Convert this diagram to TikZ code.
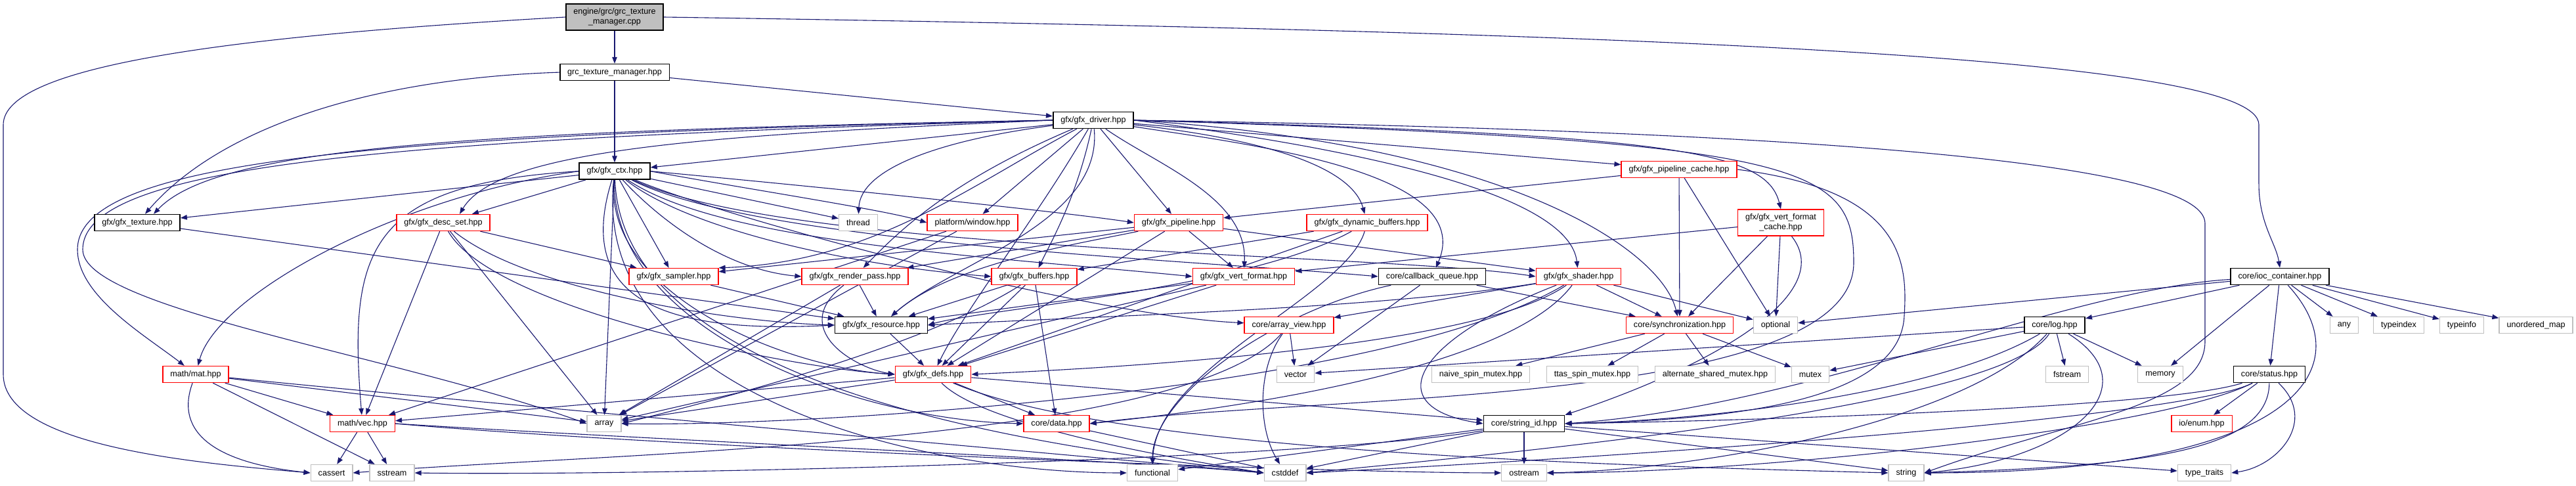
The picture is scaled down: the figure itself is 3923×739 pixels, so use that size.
\documentclass[tikz,border=0pt]{standalone}
\usepackage{fontspec}
\setmainfont{Liberation Sans}
\usetikzlibrary{arrows.meta, positioning, backgrounds}
\definecolor{edgeblue}{HTML}{191970}
\definecolor{sysgray}{HTML}{BFBFBF}
\definecolor{rootgray}{HTML}{BFBFBF}
\definecolor{truncred}{HTML}{FF0000}

\begin{document}
\begin{tikzpicture}[
    x=1pt, y=-1pt,
    >={Triangle[length=10pt, width=7.5pt]},
    every node/.style={font=\fontsize{12.6}{15}\selectfont},
    hdr/.style  ={rectangle, fill=white, align=center, inner xsep=11.5pt,
                  inner ysep=0pt, minimum height=25pt},
    box/.style  ={hdr, draw=black, line width=1.6pt},
    root/.style ={box, fill=rootgray, minimum height=40pt},
    trunc/.style={hdr, draw=truncred, line width=1.4pt},
    sys/.style  ={hdr, draw=sysgray, line width=1.4pt},
    dep/.style  ={->, line width=1.1pt, edgeblue},
]
\useasboundingbox (0,0) rectangle (3923,739);

\node[root] (cpp) at (936,26) {engine/grc/grc\_texture\\\_manager.cpp};
\node[box,  below=50pt of cpp]  (tmh) {grc\_texture\_manager.hpp};
\node[box]  (drv) at (1665,183) {gfx/gfx\_driver.hpp};
\node[box,  below=124pt of tmh] (ctx) {gfx/gfx\_ctx.hpp};
\node[trunc] (pcache) at (2557,258) {gfx/gfx\_pipeline\_cache.hpp};

\node[box]   (tex)  at (209,339)  {gfx/gfx\_texture.hpp};
\node[trunc] (dset) at (675,339)  {gfx/gfx\_desc\_set.hpp};
\node[sys]   (thr)  at (1307,339) {thread};
\node[trunc] (win)  at (1481,339) {platform/window.hpp};
\node[trunc] (pipe) at (1795,339) {gfx/gfx\_pipeline.hpp};
\node[trunc] (dynb) at (2082,339) {gfx/gfx\_dynamic\_buffers.hpp};
\node[trunc, minimum height=40pt] (vfc) at (2712,339) {gfx/gfx\_vert\_format\\\_cache.hpp};

\node[trunc] (samp)  at (1026,421) {gfx/gfx\_sampler.hpp};
\node[trunc] (rpass) at (1302,421) {gfx/gfx\_render\_pass.hpp};
\node[trunc] (bufs)  at (1575,421) {gfx/gfx\_buffers.hpp};
\node[trunc] (vfmt)  at (1894,421) {gfx/gfx\_vert\_format.hpp};
\node[box]   (cbq)   at (2181,421) {core/callback\_queue.hpp};
\node[trunc] (shd)   at (2404,421) {gfx/gfx\_shader.hpp};
\node[box]   (ioc)   at (3472,421) {core/ioc\_container.hpp};

\node[box]   (res)   at (1342,495) {gfx/gfx\_resource.hpp};
\node[trunc] (aview) at (1963,495) {core/array\_view.hpp};
\node[trunc] (sync)  at (2558,495) {core/synchronization.hpp};
\node[sys]   (opt)   at (2704,495) {optional};
\node[box]   (logh)  at (3129,495) {core/log.hpp};
\node[sys]   (any)   at (3570,495) {any};
\node[sys]   (tidx)  at (3653,495) {typeindex};
\node[sys]   (tinfo) at (3749,495) {typeinfo};
\node[sys]   (umap)  at (3862,495) {unordered\_map};

\node[trunc] (mat)    at (298,570)  {math/mat.hpp};
\node[trunc] (defs)   at (1421,570) {gfx/gfx\_defs.hpp};
\node[sys]   (vector) at (1973,570) {vector};
\node[sys]   (naive)  at (2255,570) {naive\_spin\_mutex.hpp};
\node[sys]   (ttas)   at (2425,570) {ttas\_spin\_mutex.hpp};
\node[sys]   (alt)    at (2612,570) {alternate\_shared\_mutex.hpp};
\node[sys]   (mtx)    at (2757,570) {mutex};
\node[sys]   (fstr)   at (3148,570) {fstream};
\node[sys]   (mem)    at (3290,570) {memory};
\node[box]   (stat)   at (3456,570) {core/status.hpp};

\node[trunc] (vech)  at (552,645)  {math/vec.hpp};
\node[sys]   (arr)   at (920,645)  {array};
\node[trunc] (data)  at (1609,645) {core/data.hpp};
\node[box]   (sid)   at (2321,645) {core/string\_id.hpp};
\node[trunc] (enumh) at (3353,645) {io/enum.hpp};

\node[sys] (cas)  at (505,720)  {cassert};
\node[sys] (sst)  at (597,720)  {sstream};
\node[sys] (func) at (1755,720) {functional};
\node[sys] (cstd) at (1957,720) {cstddef};
\node[sys] (ostr) at (2321,720) {ostream};
\node[sys] (str)  at (2903,720) {string};
\node[sys] (ttr)  at (3357,720) {type\_traits};

\begin{scope}[on background layer]
\draw[dep] (cpp) -- (tmh);
\draw[dep] (cpp.west) .. controls (350,55) and (5,100) .. (5,190) -- (5,570) .. controls (5,680) and (300,705) .. (cas.west);
\draw[dep] (cpp.east) .. controls (2600,50) and (3440,90) .. (3440,190) -- (3440,280) .. controls (3440,340) and (3466,370) .. (ioc.north);
\draw[dep] (tmh) -- (ctx);
\draw[dep] (tmh) -- (drv);
\draw[dep] (tmh.west) .. controls (550,120) and (330,200) .. ([xshift=12pt]tex.north);

\draw[dep] (drv) -- (ctx);
\draw[dep] (drv.west) .. controls (700,200) and (330,225) .. ([xshift=25pt]tex.north);
\draw[dep] (drv.west) .. controls (1100,205) and (760,225) .. ([xshift=25pt]dset.north);
\draw[dep] (drv) .. controls (1420,215) and (1310,260) .. (thr);
\draw[dep] (drv) -- (win);
\draw[dep] (drv) -- (pipe);
\draw[dep] (drv) -- (pcache);
\draw[dep] (drv) .. controls (1950,215) and (2060,260) .. (dynb);
\draw[dep] (drv.east) .. controls (2550,205) and (2690,230) .. (vfc.north);
\draw[dep] (drv) .. controls (1480,280) and (1330,400) .. (samp.north east);
\draw[dep] (drv) .. controls (1460,270) and (1380,340) .. (rpass);
\draw[dep] (drv) .. controls (1640,300) and (1600,370) .. (bufs);
\draw[dep] (drv) .. controls (1760,250) and (1900,300) .. (vfmt);
\draw[dep] (drv) .. controls (1900,220) and (2250,260) .. (cbq);
\draw[dep] (drv.east) .. controls (2100,230) and (2390,300) .. (shd);
\draw[dep] (drv.east) .. controls (2300,220) and (2530,380) .. (sync);
\draw[dep] (drv) .. controls (1680,340) and (1450,400) .. (res);
\draw[dep] (drv) .. controls (1580,330) and (1470,470) .. (defs);
\draw[dep] (drv.west) .. controls (600,205) and (118,240) .. (118,380) .. controls (118,450) and (220,510) .. (mat);
\draw[dep] (drv.west) .. controls (600,212) and (126,250) .. (126,380) .. controls (126,470) and (600,540) .. (arr.west);
\draw[dep] (drv.east) .. controls (2800,200) and (3358,250) .. (3358,340) -- (3358,520) .. controls (3358,620) and (3150,640) .. (str.east);
\draw[dep] (drv.east) .. controls (2750,215) and (2823,250) .. (2823,400) .. controls (2823,620) and (2000,600) .. (data.east);

\draw[dep] (ctx) -- (tex);
\draw[dep] (ctx) -- (dset);
\draw[dep] (ctx) -- (thr);
\draw[dep] (ctx.east) .. controls (1150,290) and (1350,320) .. (win.west);
\draw[dep] (ctx.east) .. controls (1200,280) and (1600,320) .. (pipe.west);
\draw[dep] (ctx) -- (samp);
\draw[dep] (ctx) .. controls (1000,330) and (1100,410) .. (rpass.west);
\draw[dep] (ctx) .. controls (1050,350) and (1300,405) .. (bufs.west);
\draw[dep] (ctx) .. controls (1100,370) and (1500,390) .. (vfmt.west);
\draw[dep] (ctx) .. controls (1150,370) and (1800,395) .. (cbq.west);
\draw[dep] (ctx) .. controls (1200,385) and (2100,385) .. (shd.west);
\draw[dep] (ctx) .. controls (1100,330) and (1650,480) .. (aview);
\draw[dep] (ctx) .. controls (880,440) and (980,510) .. (res.west);
\draw[dep] (ctx) .. controls (920,450) and (1200,560) .. (defs.west);
\draw[dep] (ctx) .. controls (930,500) and (1300,640) .. (data.west);
\draw[dep] (ctx) .. controls (900,600) and (1400,720) .. (func.west);
\draw[dep] (ctx) .. controls (950,620) and (1700,690) .. (cstd.west);
\draw[dep] (ctx.west) .. controls (600,300) and (330,450) .. (mat);
\draw[dep] (ctx.west) .. controls (560,280) and (530,380) .. (vech);
\draw[dep] (ctx) -- (arr);

\draw[dep] (pcache) -- (pipe);
\draw[dep] (pcache) -- (sync);
\draw[dep] (pcache) -- (opt);
\draw[dep] (pcache.east) .. controls (2900,290) and (2905,400) .. (2900,480) .. controls (2895,620) and (2600,640) .. (sid.east);

\draw[dep] (tex) -- (res);
\draw[dep] (dset) -- (samp);
\draw[dep] (dset) .. controls (800,440) and (1100,490) .. (res.west);
\draw[dep] (dset) .. controls (750,470) and (1200,560) .. (defs.west);
\draw[dep] (dset) -- (arr);
\draw[dep] (dset) -- (vech);
\draw[dep] (win) -- (vech);
\draw[dep] (win) -- (arr);
\draw[dep] (pipe) -- (samp);
\draw[dep] (pipe) -- (rpass);
\draw[dep] (pipe) .. controls (1650,370) and (1450,400) .. (res);
\draw[dep] (pipe) -- (defs);
\draw[dep] (pipe) -- (vfmt);
\draw[dep] (pipe) -- (shd);
\draw[dep] (dynb) -- (bufs);
\draw[dep] (dynb) .. controls (1900,440) and (1500,470) .. (res.east);
\draw[dep] (dynb) -- (defs);
\draw[dep] (dynb) .. controls (2050,450) and (1760,560) .. (func);
\draw[dep] (vfc) -- (vfmt);
\draw[dep] (vfc) -- (sync);
\draw[dep] (vfc) -- (opt);
\draw[dep] (vfc) .. controls (2800,450) and (2600,560) .. (sid.north east);

\draw[dep] (samp) -- (res);
\draw[dep] (rpass) -- (res);
\draw[dep] (rpass) -- (arr);
\draw[dep] (rpass) .. controls (1200,500) and (1300,560) .. (defs.west);
\draw[dep] (bufs) -- (res);
\draw[dep] (bufs) -- (defs);
\draw[dep] (bufs) -- (data);
\draw[dep] (bufs) .. controls (1450,500) and (1250,570) .. (arr.east);
\draw[dep] (vfmt) -- (res);
\draw[dep] (vfmt) -- (defs);
\draw[dep] (vfmt) -- (arr);
\draw[dep] (cbq) -- (vector);
\draw[dep] (cbq) -- (sync);
\draw[dep] (cbq) .. controls (1950,470) and (1755,600) .. (func);
\draw[dep] (shd) -- (aview);
\draw[dep] (shd) -- (sync);
\draw[dep] (shd) -- (opt);
\draw[dep] (shd) .. controls (2150,520) and (2100,620) .. (sid.west);
\draw[dep] (shd) .. controls (2250,530) and (1700,560) .. (defs.east);
\draw[dep] (shd) .. controls (2100,470) and (1700,480) .. (res.east);
\draw[dep] (shd) .. controls (2300,560) and (1900,620) .. (data.east);
\draw[dep] (shd) .. controls (2100,600) and (1200,650) .. (arr.east);

\draw[dep] (res) -- (defs);
\draw[dep] (aview) -- (vector);
\draw[dep] (aview) .. controls (1915,560) and (1915,650) .. (cstd);
\draw[dep] (aview) .. controls (1800,680) and (900,690) .. (cas.east);
\draw[dep] (sync) -- (naive);
\draw[dep] (sync) -- (ttas);
\draw[dep] (sync) -- (alt);
\draw[dep] (sync) -- (mtx);

\draw[dep] (ioc) -- (any);
\draw[dep] (ioc) -- (tidx);
\draw[dep] (ioc) -- (tinfo);
\draw[dep] (ioc) -- (umap);
\draw[dep] (ioc) -- (mem);
\draw[dep] (ioc) -- (stat);
\draw[dep] (ioc) -- (logh);
\draw[dep] (ioc) -- (opt);
\draw[dep] (ioc) .. controls (3600,560) and (3500,720) .. (str.east);
\draw[dep] (ioc) .. controls (3150,440) and (2750,620) .. (sid.east);
\draw[dep] (logh) -- (fstr);
\draw[dep] (logh) -- (mem);
\draw[dep] (logh) -- (mtx);
\draw[dep] (logh) -- (vector);
\draw[dep] (logh) .. controls (2950,600) and (2600,640) .. (sid.east);
\draw[dep] (logh) .. controls (3280,590) and (3150,700) .. (str.east);
\draw[dep] (logh) .. controls (3050,620) and (2300,690) .. (cstd.east);
\draw[dep] (logh) .. controls (3000,640) and (2600,715) .. (ostr.east);
\draw[dep] (stat) -- (enumh);
\draw[dep] (stat) .. controls (3530,640) and (3470,710) .. (ttr.east);
\draw[dep] (stat) .. controls (3455,690) and (3250,710) .. (str.east);
\draw[dep] (stat) .. controls (3300,620) and (2700,640) .. (sid.east);
\draw[dep] (stat) .. controls (3300,650) and (2700,720) .. (ostr.east);
\draw[dep] (stat) .. controls (3320,640) and (2400,700) .. (cstd.east);

\draw[dep] (mat) -- (vech);
\draw[dep] (mat) .. controls (265,660) and (330,705) .. (cas.west);
\draw[dep] (mat) -- (sst);
\draw[dep] (mat) -- (arr);
\draw[dep] (mat) .. controls (800,620) and (1600,690) .. (cstd.west);
\draw[dep] (defs) -- (data);
\draw[dep] (defs) -- (vech);
\draw[dep] (defs) -- (arr);
\draw[dep] (defs) -- (sid);
\draw[dep] (defs) .. controls (1500,650) and (1800,700) .. (cstd.west);
\draw[dep] (defs) .. controls (1700,690) and (2500,710) .. (str.west);
\draw[dep] (vech) -- (cas);
\draw[dep] (vech) -- (sst);
\draw[dep] (vech.east) .. controls (1000,670) and (1700,700) .. (cstd.west);
\draw[dep] (vech.east) .. controls (1000,680) and (2000,720) .. (ostr.west);
\draw[dep] (data) -- (cstd);
\draw[dep] (sid) -- (ostr);
\draw[dep] (sid) -- (str);
\draw[dep] (sid) -- (cstd);
\draw[dep] (sid) -- (func);
\draw[dep] (sid) -- (ttr);
\draw[dep] (sid) .. controls (2000,700) and (1000,725) .. (sst.east);
\end{scope}
\end{tikzpicture}
\end{document}
